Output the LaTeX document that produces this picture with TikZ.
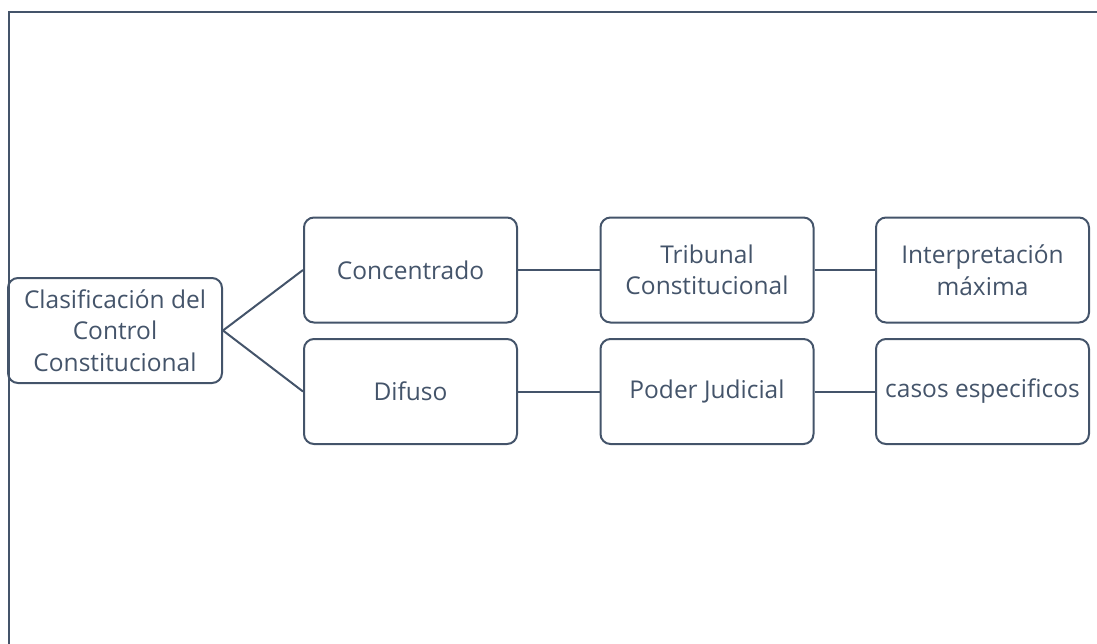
\documentclass[tikz,border=0pt]{standalone}
\usepackage{fontspec}
\setmainfont{Open Sans}
\definecolor{slate}{HTML}{44546A}
\begin{document}
\begin{tikzpicture}[x=1pt,y=-1pt,
  box/.style={draw=slate, line width=2pt, rounded corners=10pt, minimum width=213pt, minimum height=105pt, align=center, text=slate, font=\fontsize{24.5}{31.5}\selectfont, inner sep=0pt},
  link/.style={draw=slate, line width=2pt}]
\useasboundingbox (0,0) rectangle (1097,643);
\draw[slate, line width=2.5pt] (9,650) -- (9,12) -- (1100,12);
\node[box, minimum width=214pt] (root) at (115,330.5) {Clasificación del\\Control\\Constitucional};
\node[box] (conc) at (410.5,270) {Concentrado};
\node[box] (difu) at (410.5,391.5) {Difuso};
\node[box] (trib) at (707,270) {Tribunal\\Constitucional};
\node[box] (pode) at (707,391.5) {Poder Judicial};
\node[box] (inte) at (982.5,270) {Interpretación\\máxima};
\node[box] (caso) at (982.5,391.5) {casos especificos};
\draw[link] (root.east) -- (conc.west);
\draw[link] (root.east) -- (difu.west);
\draw[link] (conc) -- (trib);
\draw[link] (trib) -- (inte);
\draw[link] (difu) -- (pode);
\draw[link] (pode) -- (caso);
\end{tikzpicture}
\end{document}
